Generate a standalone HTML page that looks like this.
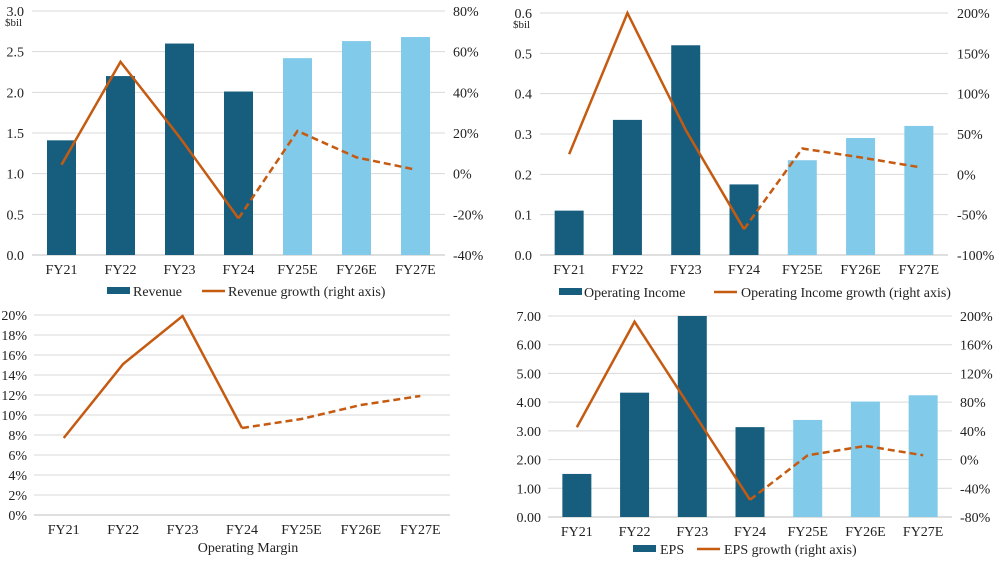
<!DOCTYPE html>
<html><head><meta charset="utf-8"><style>
body{margin:0;background:#fff;}
svg text{font-family:"Liberation Serif",serif;font-size:14px;fill:#222;}
</style></head><body>
<svg id="s" width="1000" height="559" xmlns="http://www.w3.org/2000/svg"></svg>
<script>
const categories=["FY21","FY22","FY23","FY24","FY25E","FY26E","FY27E"];
const revenue=[1.41,2.20,2.60,2.01,2.42,2.63,2.68];
const revenueGrowth=[4.4,55,18,-22,21,8,2];
const opIncome=[0.11,0.335,0.52,0.175,0.235,0.29,0.32];
const opIncomeGrowth=[25,200,55,-68,32,21,9];
const opMargin=[7.7,15.1,19.9,8.7,9.6,11.0,11.9];
const eps=[1.50,4.33,7.00,3.13,3.38,4.02,4.24];
const epsGrowth=[45,192,68,-56,6,19,6];
const revTicks=["0.0","0.5","1.0","1.5","2.0","2.5","3.0"];
const revGTicks=["-40%","-20%","0%","20%","40%","60%","80%"];
const oiTicks=["0.0","0.1","0.2","0.3","0.4","0.5","0.6"];
const oiGTicks=["-100%","-50%","0%","50%","100%","150%","200%"];
const omTicks=["0%","2%","4%","6%","8%","10%","12%","14%","16%","18%","20%"];
const epsTicks=["0.00","1.00","2.00","3.00","4.00","5.00","6.00","7.00"];
const epsGTicks=["-80%","-40%","0%","40%","80%","120%","160%","200%"];

const S=document.getElementById('s');const NS="http://www.w3.org/2000/svg";
function mk(tag,at,txt){const e=document.createElementNS(NS,tag);for(const k in at)e.setAttribute(k,at[k]);if(txt!=null)e.textContent=txt;S.appendChild(e);return e;}
const DARK="#175E7E",LIGHT="#82CAEA",ORG="#C55A11";

function chart(c){
 const {x0,x1,yTop,yBot,lmin,lmax,rmin,rmax}=c;
 const n=categories.length, step=(x1-x0)/n;
 const xs=i=>x0+step*(i+0.5);
 const yl=v=>yBot-(v-lmin)/(lmax-lmin)*(yBot-yTop);
 const yr=v=>yBot-(v-rmin)/(rmax-rmin)*(yBot-yTop);
 c.lt.forEach((t,i)=>{const y=yBot-i*(yBot-yTop)/(c.lt.length-1);
  const g=mk('line',{x1:x0,x2:x1,y1:y,y2:y,stroke:i==0?'#bfbfbf':'#d9d9d9','stroke-width':1});
  
  
  const l=mk('text',{x:c.lx,y:y+5,'text-anchor':'end'},t);
  
  });
 if(c.rt)c.rt.forEach((t,i)=>{const y=yBot-i*(yBot-yTop)/(c.rt.length-1);
  const l=mk('text',{x:c.rx,y:y+5},t);
  
  });
 if(c.unit){const u=mk('text',{x:c.lx-19,y:yTop+15,style:'font-size:11px'},'$bil');
  
  }
 categories.forEach((t,i)=>{const l=mk('text',{x:xs(i),y:yBot+19,'text-anchor':'middle'},t);
  
  });
 if(c.bars)c.bars.forEach((v,i)=>{const b=mk('rect',{x:xs(i)-14.5,y:yl(v),width:29,height:yBot-yl(v),fill:i<4?DARK:LIGHT});
  
  });
 const f=c.line.map((v,i)=>[xs(i),c.bars?yr(v):yl(v)]);
 const sol=mk('polyline',{points:f.slice(0,4).map(p=>p.join(',')).join(' '),fill:'none',stroke:ORG,'stroke-width':2.5});
 
 
 const das=mk('polyline',{points:f.slice(3).map(p=>p.join(',')).join(' '),fill:'none',stroke:ORG,'stroke-width':2.5,'stroke-dasharray':'7,4'});
 
 
 c.leg.forEach(L=>{let s;
  if(L.bar)s=mk('rect',{x:L.x,y:c.ly-4,width:23,height:7,fill:DARK});
  else if(L.line)s=mk('line',{x1:L.x,x2:L.x+23,y1:c.ly,y2:c.ly,stroke:ORG,'stroke-width':2.5});
  if(s){
  }
  const t=mk('text',{x:L.tx,y:c.ly+5,'text-anchor':L.anchor||'start'},L.t);
  
  });
}
chart({id:'revenue',x0:32,x1:445,yTop:11,yBot:255,lmin:0,lmax:3,rmin:-40,rmax:80,lt:revTicks,rt:revGTicks,lx:24,rx:453,unit:true,bars:revenue,line:revenueGrowth,ly:291,
 leg:[{bar:1,x:107,tx:133,t:'Revenue'},{line:1,x:202,tx:228,t:'Revenue growth (right axis)'}]});
chart({id:'operating-income',x0:540,x1:948,yTop:13,yBot:255,lmin:0,lmax:0.6,rmin:-100,rmax:200,lt:oiTicks,rt:oiGTicks,lx:532,rx:957,unit:true,bars:opIncome,line:opIncomeGrowth,ly:292,
 leg:[{bar:1,x:559,tx:584,t:'Operating Income'},{line:1,x:714,tx:741,t:'Operating Income growth (right axis)'}]});
chart({id:'operating-margin',x0:34,x1:450,yTop:315,yBot:515,lmin:0,lmax:20,lt:omTicks,lx:27,line:opMargin,ly:547,
 leg:[{tx:248,t:'Operating Margin',anchor:'middle'}]});
chart({id:'eps',x0:548,x1:952,yTop:316,yBot:517,lmin:0,lmax:7,rmin:-80,rmax:200,lt:epsTicks,rt:epsGTicks,lx:541,rx:960,bars:eps,line:epsGrowth,ly:549,
 leg:[{bar:1,x:633,tx:660,t:'EPS'},{line:1,x:697,tx:724,t:'EPS growth (right axis)'}]});
</script>
</body></html>
